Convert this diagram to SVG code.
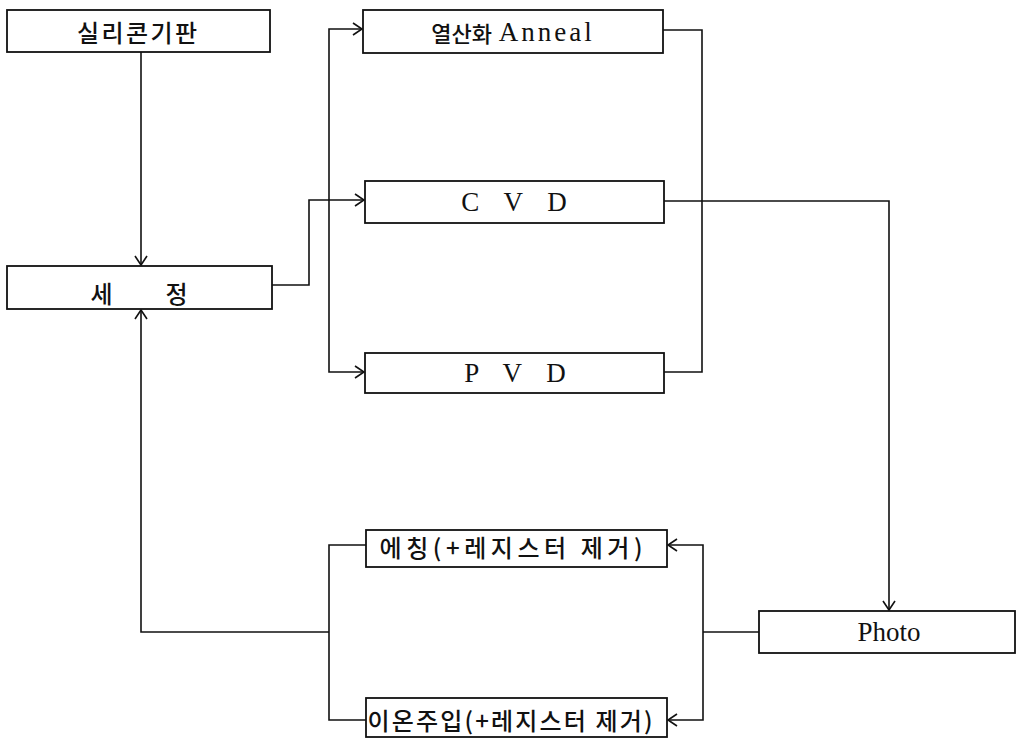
<svg xmlns="http://www.w3.org/2000/svg" width="1018" height="738" viewBox="0 0 1018 738">
<style>
.box{fill:#fff;stroke:#111;stroke-width:1.8}
.ko{font-family:"Noto Sans CJK KR","Noto Sans",sans-serif;font-size:24px;font-weight:500;fill:#111;dominant-baseline:central;text-anchor:middle}
.la{font-family:"Liberation Serif","Noto Sans CJK KR",serif;font-size:27px;fill:#111;dominant-baseline:central;text-anchor:middle}
.c{fill:none;stroke:#111;stroke-width:1.6}
</style>
<defs>
<marker id="ar" markerUnits="userSpaceOnUse" markerWidth="14" markerHeight="14" viewBox="-12 -7 14 14" refX="0" refY="0" orient="auto-start-reverse">
<path d="M-9,-6 L0,0 L-9,6" fill="none" stroke="#111" stroke-width="1.6"/>
</marker>
</defs>
<g id="connectors">
<path class="c" d="M141,52 V265" marker-end="url(#ar)"/>
<path class="c" d="M272,285 H309 V200 H364" marker-end="url(#ar)"/>
<path class="c" d="M362,29 H329 V372 H364" marker-start="url(#ar)" marker-end="url(#ar)"/>
<path class="c" d="M663,30 H702 V372 H664"/>
<path class="c" d="M664,201 H889 V610" marker-end="url(#ar)"/>
<path class="c" d="M759,632 H703"/>
<path class="c" d="M668,545 H703 V720 H668" marker-start="url(#ar)" marker-end="url(#ar)"/>
<path class="c" d="M366,545 H329 V720 H366"/>
<path class="c" d="M329,632 H141 V310" marker-end="url(#ar)"/>
</g>
<g id="silicon">
<rect class="box" x="7" y="10" width="263" height="42"/>
<text class="ko" x="137" y="31" textLength="120" lengthAdjust="spacing">실리콘기판</text>
</g>
<g id="clean">
<rect class="box" x="7" y="266" width="265" height="43"/>
<text class="ko" x="139" y="292" textLength="97" lengthAdjust="spacing">세 정</text>
</g>
<g id="anneal">
<rect class="box" x="363" y="10" width="300" height="43"/>
<text class="la" x="513" y="32"><tspan class="ko" style="font-size:22px">열산화</tspan> <tspan letter-spacing="3">Anneal</tspan></text>
</g>
<g id="cvd">
<rect class="box" x="365" y="181" width="299" height="42"/>
<text class="la" x="514" y="202" word-spacing="18">C V D</text>
</g>
<g id="pvd">
<rect class="box" x="365" y="353" width="299" height="40"/>
<text class="la" x="515" y="373" word-spacing="18">P V D</text>
</g>
<g id="photo">
<rect class="box" x="759" y="611" width="256" height="42"/>
<text class="la" x="889" y="632">Photo</text>
</g>
<g id="etch">
<rect class="box" x="366" y="530" width="301" height="37"/>
<text class="ko" x="511" y="546" textLength="263" lengthAdjust="spacing">에칭(+레지스터 제거)</text>
</g>
<g id="implant">
<rect class="box" x="366" y="698" width="301" height="39"/>
<text class="ko" x="510" y="719" textLength="285" lengthAdjust="spacing">이온주입(+레지스터 제거)</text>
</g>
</svg>
